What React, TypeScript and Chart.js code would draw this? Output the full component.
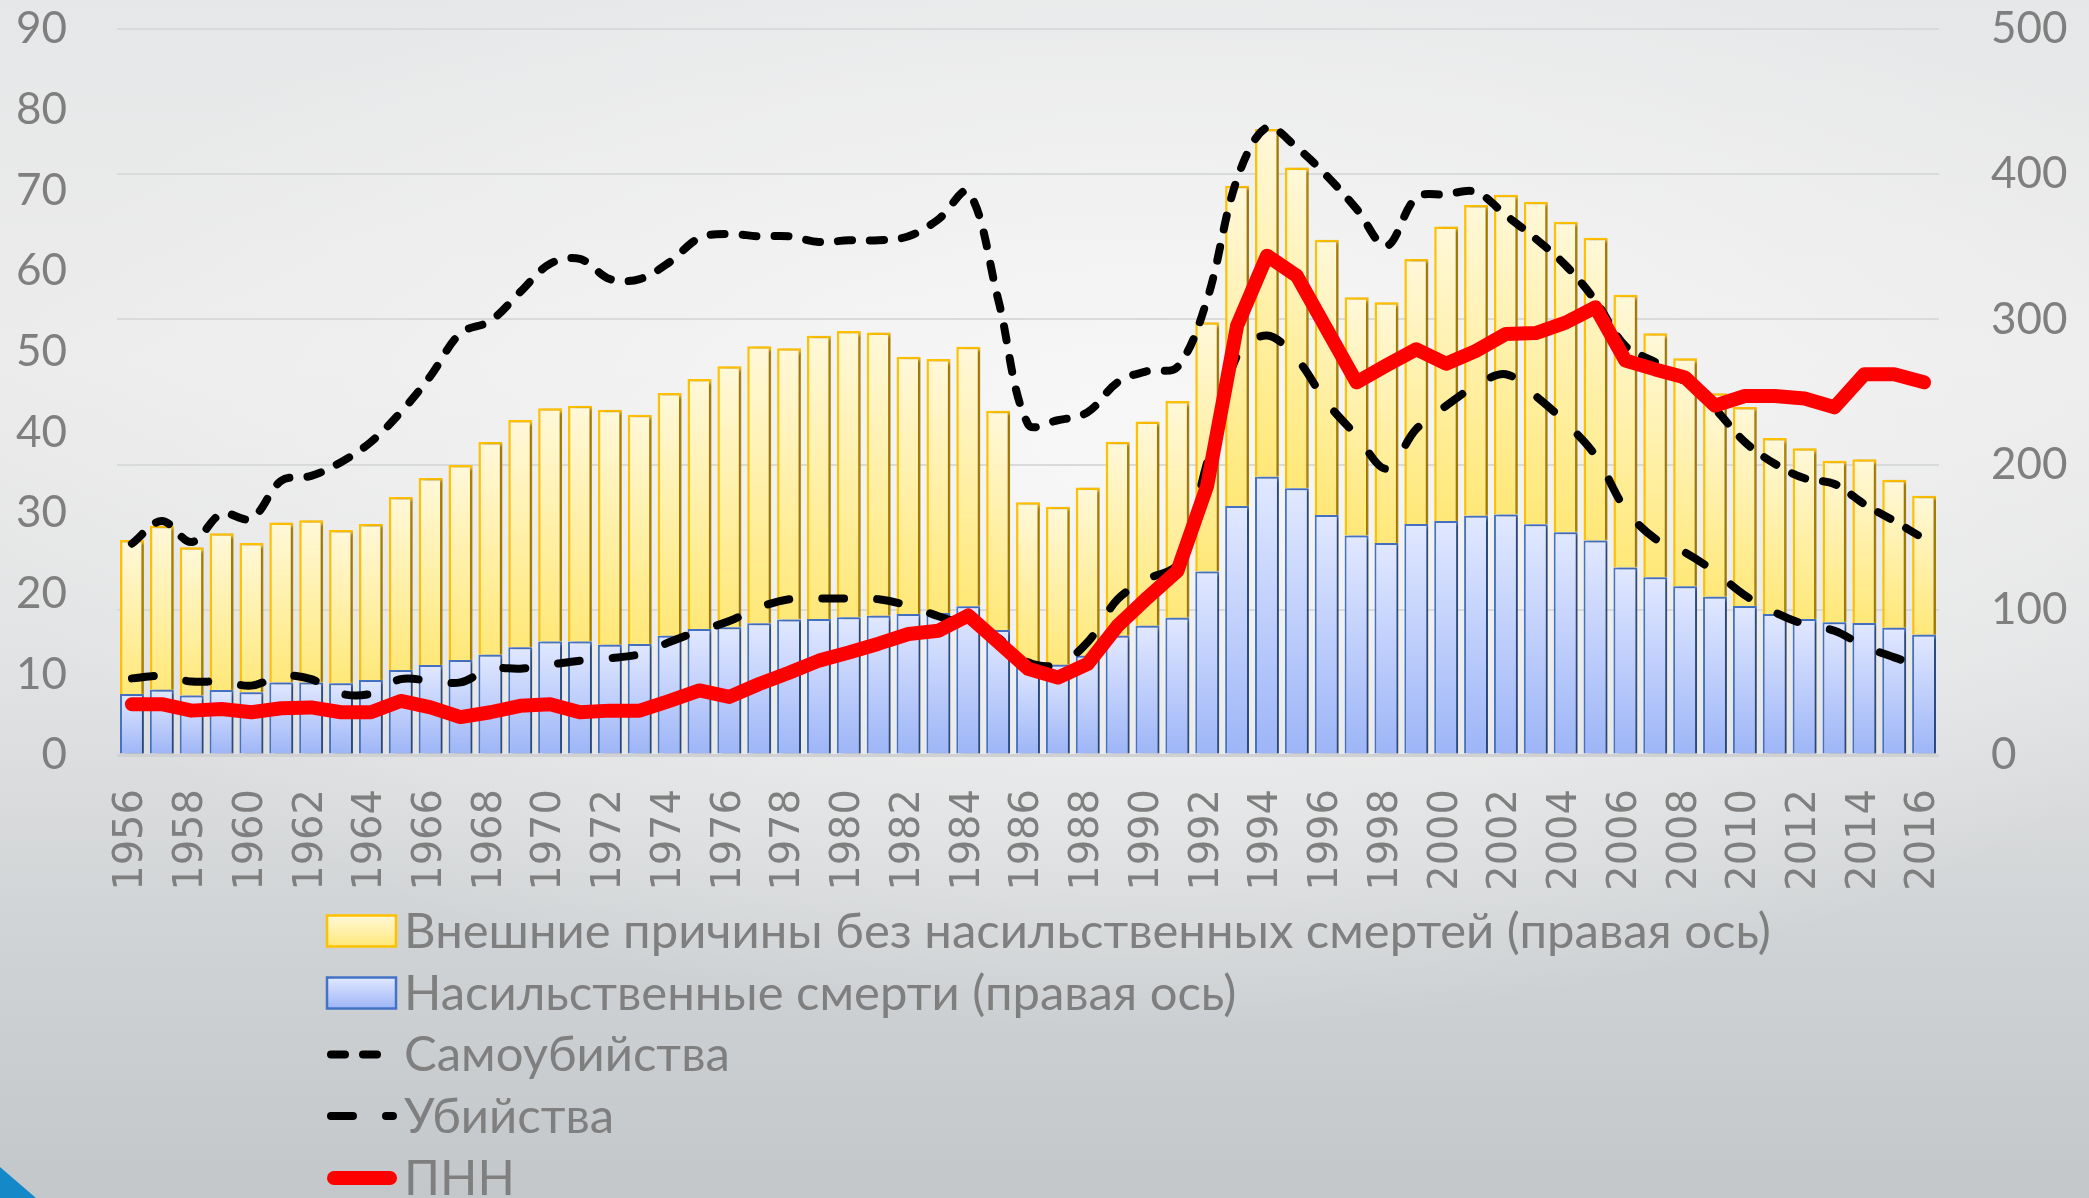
import React, { useEffect, useRef } from 'react';
import { Chart, registerables } from 'chart.js';

Chart.register(...registerables);

const years = [
  '1956','1957','1958','1959','1960','1961','1962','1963','1964','1965',
  '1966','1967','1968','1969','1970','1971','1972','1973','1974','1975',
  '1976','1977','1978','1979','1980','1981','1982','1983','1984','1985',
  '1986','1987','1988','1989','1990','1991','1992','1993','1994','1995',
  '1996','1997','1998','1999','2000','2001','2002','2003','2004','2005',
  '2006','2007','2008','2009','2010','2011','2012','2013','2014','2015','2016',
];

// Right axis (stacked bars)
const violentDeaths = [
  42.0, 45.0, 40.9, 44.8, 43.2, 50.0, 50.0, 49.4, 51.7, 58.5,
  62.0, 65.4, 69.1, 74.2, 78.1, 78.1, 76.0, 76.4, 82.2, 86.8,
  87.9, 90.7, 93.4, 93.7, 94.8, 95.9, 97.1, 97.8, 102.4, 86.1,
  63.0, 62.2, 68.4, 82.2, 89.1, 94.6, 126.3, 171.5, 191.7, 183.7,
  165.3, 151.1, 146.0, 159.1, 161.2, 164.8, 165.7, 158.9, 153.4, 147.8,
  129.2, 122.4, 116.2, 109.0, 102.6, 97.1, 93.7, 91.4, 90.9, 87.7, 82.9,
];
const externalNonViolent = [
  106.1, 112.9, 102.1, 107.9, 102.8, 110.2, 111.6, 105.6, 107.4, 119.2,
  128.8, 134.3, 146.5, 156.5, 160.7, 162.5, 161.8, 158.0, 167.1, 172.1,
  179.8, 190.8, 186.7, 195.1, 197.2, 195.0, 177.2, 174.9, 178.8, 151.0,
  111.0, 108.8, 115.9, 133.6, 140.5, 149.2, 171.7, 220.6, 239.4, 221.0,
  189.6, 164.1, 165.8, 182.5, 202.7, 214.0, 220.2, 222.2, 213.9, 208.5,
  187.8, 168.0, 157.0, 140.1, 137.1, 121.2, 117.5, 111.3, 112.7, 101.9, 95.7,
];

// Left axis (lines)
const suicides = [
  26.2, 29.0, 26.4, 29.9, 29.3, 34.0, 34.6, 36.3, 38.8, 42.5,
  47.0, 52.3, 53.8, 57.4, 60.9, 61.5, 59.0, 59.0, 61.1, 64.1,
  64.6, 64.3, 64.3, 63.6, 63.8, 63.8, 64.3, 66.4, 69.8, 56.5,
  41.0, 41.5, 42.5, 46.2, 47.6, 48.1, 56.5, 71.4, 77.8, 75.3,
  71.8, 67.7, 63.1, 69.1, 69.5, 69.8, 66.9, 64.0, 60.7, 56.3,
  50.7, 48.7, 46.2, 42.9, 38.8, 36.1, 34.3, 33.6, 31.1, 29.0, 26.8,
];
const homicides = [
  9.5, 9.8, 9.1, 9.1, 8.6, 9.8, 9.4, 7.6, 7.6, 9.4,
  9.2, 9.0, 10.7, 10.7, 11.2, 11.7, 12.0, 12.5, 14.0, 15.4,
  16.6, 18.3, 19.3, 19.4, 19.4, 19.3, 18.5, 17.2, 16.0, 14.5,
  11.5, 11.2, 14.0, 19.3, 21.8, 23.7, 36.3, 49.5, 52.0, 49.1,
  43.7, 39.6, 35.5, 40.4, 43.3, 45.8, 47.2, 44.5, 41.2, 37.1,
  30.5, 26.8, 25.1, 22.7, 19.8, 17.7, 16.2, 15.4, 13.5, 12.1, 10.9,
];
const pnn = [
  6.3, 6.3, 5.5, 5.7, 5.3, 5.8, 5.9, 5.3, 5.3, 6.7,
  5.9, 4.7, 5.3, 6.1, 6.3, 5.3, 5.5, 5.5, 6.7, 8.0,
  7.2, 8.8, 10.2, 11.7, 12.7, 13.8, 15.0, 15.4, 17.3, 14.0,
  10.7, 9.6, 11.3, 16.0, 19.5, 22.8, 33.4, 53.2, 61.9, 59.4,
  52.8, 46.2, 48.3, 50.3, 48.5, 50.1, 52.2, 52.3, 53.6, 55.5,
  48.9, 47.8, 46.8, 43.3, 44.5, 44.5, 44.2, 43.1, 47.2, 47.2, 46.2,
];

const labelNonViolent = 'Внешние причины без насильственных смертей (правая ось)';
const labelViolent = 'Насильственные смерти (правая ось)';
const labelSuicides = 'Самоубийства';
const labelHomicides = 'Убийства';
const labelPnn = 'ПНН';

const leftTicks = { min: 0, max: 90, step: 10 };
const rightTicks = { min: 0, max: 500, step: 100 };

const W = 2089;
const H = 1198;
const GRAY = '#7f7f7f';
const LABEL_FONT = 'Lato, "Open Sans", "Liberation Sans", sans-serif';

const SUICIDE_DASH = [14, 18];
const HOMICIDE_DASH = [22, 33];

function yellowGrad(ctx: CanvasRenderingContext2D, top: number, bot: number) {
  const g = ctx.createLinearGradient(0, top, 0, bot);
  g.addColorStop(0, '#fff8d9');
  g.addColorStop(1, '#ffe878');
  return g;
}
function blueGrad(ctx: CanvasRenderingContext2D, top: number, bot: number) {
  const g = ctx.createLinearGradient(0, top, 0, bot);
  g.addColorStop(0, '#e1e8ff');
  g.addColorStop(1, '#9db5f7');
  return g;
}

const barShadow = {
  id: 'barShadow',
  beforeDatasetDraw(chart: any, args: any) {
    if (args.meta.type === 'bar') {
      const c = chart.ctx;
      c.save();
      c.shadowColor = 'rgba(0,0,0,0.38)';
      c.shadowBlur = 3;
      c.shadowOffsetX = 4;
      c.shadowOffsetY = 1;
    }
  },
  afterDatasetDraw(chart: any, args: any) {
    if (args.meta.type === 'bar') chart.ctx.restore();
  },
};

const stackedLegend = {
  id: 'stackedLegend',
  afterDraw(chart: any) {
    const ctx: CanvasRenderingContext2D = chart.ctx;
    const x0 = 327;
    const bw = 69;
    const bh = 31;
    const tx = 404;
    const rows = [931, 993, 1054.5, 1116, 1178];
    const ds = chart.data.datasets;
    const order = [4, 3, 2, 1, 0];
    ctx.save();
    order.forEach((di, r) => {
      const d = ds[di];
      const cy = rows[r];
      if (d.type === 'bar') {
        const top = cy - bh / 2;
        ctx.fillStyle = di === 4 ? yellowGrad(ctx, top, top + bh) : blueGrad(ctx, top, top + bh);
        ctx.fillRect(x0, top, bw, bh);
        ctx.strokeStyle = d.borderColor;
        ctx.lineWidth = 2.5;
        ctx.strokeRect(x0, top, bw, bh);
      } else {
        ctx.beginPath();
        ctx.strokeStyle = d.borderColor;
        ctx.lineWidth = d.borderWidth;
        ctx.lineCap = 'round';
        ctx.setLineDash(d.borderDash || []);
        const pad = d.borderWidth / 2;
        ctx.moveTo(x0 + pad, cy);
        ctx.lineTo(x0 + bw - pad + 1, cy);
        ctx.stroke();
        ctx.setLineDash([]);
      }
      ctx.fillStyle = GRAY;
      ctx.font = `49px ${LABEL_FONT}`;
      ctx.textBaseline = 'middle';
      ctx.textAlign = 'left';
      ctx.fillText(d.label, tx, cy + 1);
    });
    ctx.restore();
  },
};

export default function App() {
  const ref = useRef<HTMLCanvasElement | null>(null);

  useEffect(() => {
    document.body.style.margin = '0';
    const canvas = ref.current;
    if (!canvas) return;

    const chart = new Chart(canvas, {
      data: {
        labels: years,
        datasets: [
          {
            type: 'line',
            label: labelPnn,
            data: pnn,
            yAxisID: 'y',
            borderColor: '#ff0000',
            backgroundColor: '#ff0000',
            borderWidth: 14,
            borderCapStyle: 'round',
            borderJoinStyle: 'round',
            pointRadius: 0,
            tension: 0,
            fill: false,
          },
          {
            type: 'line',
            label: labelHomicides,
            data: homicides,
            yAxisID: 'y',
            borderColor: '#000000',
            backgroundColor: '#000000',
            borderWidth: 8,
            borderDash: HOMICIDE_DASH,
            borderCapStyle: 'round',
            borderJoinStyle: 'round',
            pointRadius: 0,
            tension: 0.35,
            fill: false,
          },
          {
            type: 'line',
            label: labelSuicides,
            data: suicides,
            yAxisID: 'y',
            borderColor: '#000000',
            backgroundColor: '#000000',
            borderWidth: 8,
            borderDash: SUICIDE_DASH,
            borderCapStyle: 'round',
            borderJoinStyle: 'round',
            pointRadius: 0,
            tension: 0.35,
            fill: false,
          },
          {
            type: 'bar',
            label: labelViolent,
            data: violentDeaths,
            yAxisID: 'y1',
            stack: 'ext',
            borderColor: '#4472c4',
            borderWidth: 2,
            backgroundColor: (c: any) => {
              const ch = c.chart;
              const s = ch.scales && ch.scales.y1;
              if (!ch.chartArea || !s || c.type !== 'data') return '#c6d4fb';
              const i = c.dataIndex;
              return blueGrad(ch.ctx, s.getPixelForValue(violentDeaths[i]), s.getPixelForValue(0));
            },
            barPercentage: 0.8,
            categoryPercentage: 1.0,
          },
          {
            type: 'bar',
            label: labelNonViolent,
            data: externalNonViolent,
            yAxisID: 'y1',
            stack: 'ext',
            borderColor: '#ffc000',
            borderWidth: 2.5,
            backgroundColor: (c: any) => {
              const ch = c.chart;
              const s = ch.scales && ch.scales.y1;
              if (!ch.chartArea || !s || c.type !== 'data') return '#fff0a8';
              const i = c.dataIndex;
              return yellowGrad(
                ch.ctx,
                s.getPixelForValue(violentDeaths[i] + externalNonViolent[i]),
                s.getPixelForValue(violentDeaths[i]),
              );
            },
            barPercentage: 0.8,
            categoryPercentage: 1.0,
          },
        ],
      } as any,
      options: {
        responsive: false,
        animation: false,
        devicePixelRatio: 1,
        layout: { padding: { top: 29, left: 0, right: 0, bottom: 0 } },
        plugins: {
          legend: { display: false },
          tooltip: { enabled: false },
        },
        scales: {
          x: {
            stacked: true,
            grid: { display: false, drawTicks: false },
            border: { display: false },
            ticks: {
              autoSkip: false,
              minRotation: 90,
              maxRotation: 90,
              padding: 34,
              color: GRAY,
              font: { family: '"DejaVu Sans", Verdana, sans-serif', size: 40 },
              callback: (_v: any, i: number) => (i % 2 === 0 ? years[i] : ''),
            },
            afterFit: (s: any) => {
              s.height = 443;
              s.paddingLeft = 0;
              s.paddingRight = 0;
            },
          },
          y: {
            position: 'left',
            min: leftTicks.min,
            max: leftTicks.max,
            grid: { display: false, drawTicks: false },
            border: { display: false },
            ticks: {
              stepSize: leftTicks.step,
              padding: 50,
              color: GRAY,
              font: { family: LABEL_FONT, size: 44 },
            },
            afterFit: (s: any) => {
              s.width = 117;
              s.paddingTop = 0;
              s.paddingBottom = 0;
            },
          },
          y1: {
            position: 'right',
            stacked: true,
            min: rightTicks.min,
            max: rightTicks.max,
            grid: {
              drawTicks: false,
              color: (c: any) => (c.tick && c.tick.value === 0 ? '#cfd1d2' : '#d9dadb'),
              lineWidth: (c: any) => (c.tick && c.tick.value === 0 ? 3 : 2),
            },
            border: { display: false },
            ticks: {
              stepSize: rightTicks.step,
              padding: 52,
              color: GRAY,
              font: { family: LABEL_FONT, size: 44 },
            },
            afterFit: (s: any) => {
              s.width = 150;
              s.paddingTop = 0;
              s.paddingBottom = 0;
            },
          },
        },
      } as any,
      plugins: [barShadow, stackedLegend],
    });

    return () => chart.destroy();
  }, []);

  return (
    <div
      style={{
        position: 'fixed',
        left: 0,
        top: 0,
        width: W,
        height: H,
        overflow: 'hidden',
        background:
          'radial-gradient(ellipse 70% 60% at 55% 38%, rgba(250,250,250,0.85) 0%, rgba(245,245,245,0.5) 45%, rgba(240,240,240,0) 80%), linear-gradient(to bottom, #e6e7e8 0%, #ececec 30%, #e2e3e4 55%, #d0d3d5 78%, #c3c7ca 100%)',
      }}
    >
      <canvas ref={ref} width={W} height={H} style={{ display: 'block', width: W, height: H }} />
      <div
        style={{
          position: 'absolute',
          left: 0,
          bottom: 0,
          width: 36,
          height: 31,
          background: '#1589c8',
          clipPath: 'polygon(0 0, 100% 100%, 0 100%)',
        }}
      />
    </div>
  );
}
